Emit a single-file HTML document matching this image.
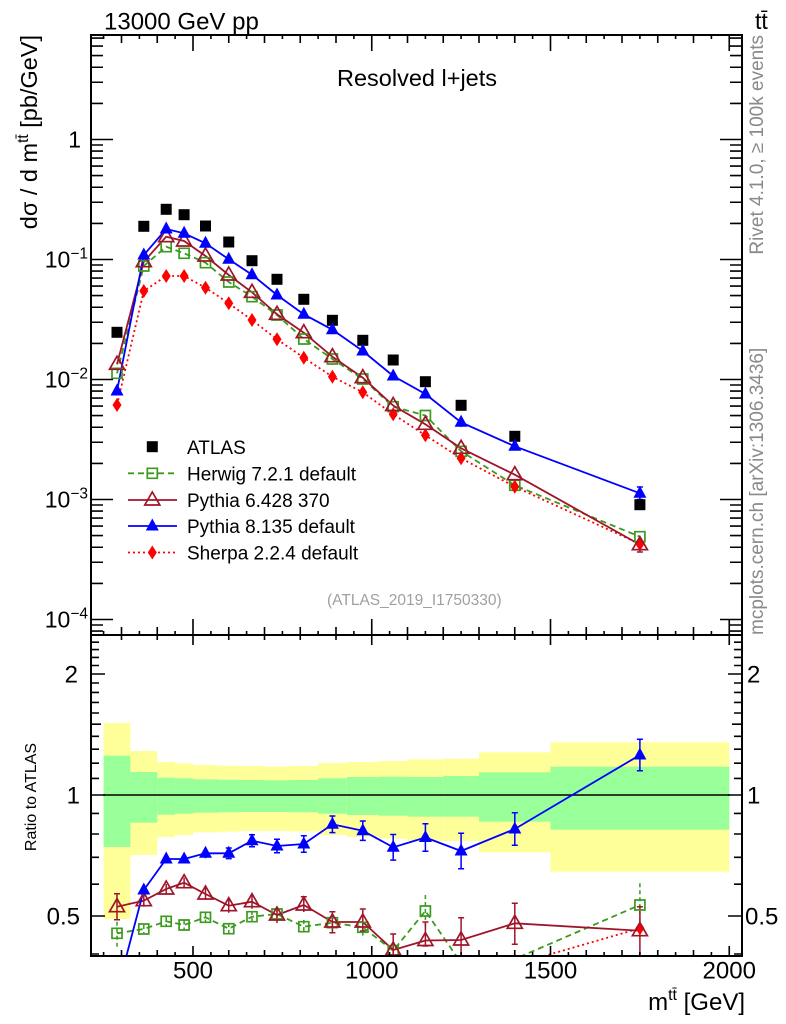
<!DOCTYPE html>
<html><head><meta charset="utf-8"><style>
html,body{margin:0;padding:0;background:#fff;}
svg{display:block;font-family:"Liberation Sans",Arial,sans-serif;}
</style></head><body>
<svg width="786" height="1024" viewBox="0 0 786 1024" xmlns="http://www.w3.org/2000/svg">
<defs>
<clipPath id="cm"><rect x="91" y="35" width="651" height="600"/></clipPath>
<clipPath id="cr"><rect x="91" y="635" width="651" height="321"/></clipPath>
<path id="sq" d="M-5.5,-5.5h11v11h-11z" fill="#000"/>
<path id="osq" d="M-5,-5h10v10h-10z" fill="none" stroke="#3c9a1e" stroke-width="1.7"/>
<path id="otri" d="M0,-8L7.5,5H-7.5Z" fill="none" stroke="#a0142a" stroke-width="1.7"/>
<path id="ftri" d="M0,-7.5L6.5,4.5H-6.5Z" fill="#0000ff"/>
<path id="dia" d="M0,-7L4.5,0L0,7L-4.5,0Z" fill="#ff0000"/>
</defs>
<rect width="786" height="1024" fill="#fff"/>

<!-- ratio bands -->
<g clip-path="url(#cr)">
<g fill="#ffff99">
<rect x="103.6" y="723" width="26.8" height="196"/>
<rect x="130.4" y="751" width="26.9" height="104"/>
<rect x="157.3" y="762" width="17.8" height="75"/>
<rect x="175.1" y="763.3" width="17.9" height="71.7"/>
<rect x="193" y="765" width="25" height="67.3"/>
<rect x="218" y="765.7" width="21.5" height="66"/>
<rect x="239.5" y="766" width="25" height="65"/>
<rect x="264.5" y="766.5" width="25" height="64.5"/>
<rect x="289.5" y="766" width="28.6" height="65.5"/>
<rect x="318.1" y="763" width="28.6" height="72"/>
<rect x="346.7" y="762" width="32.2" height="75"/>
<rect x="378.9" y="761" width="28.6" height="77.7"/>
<rect x="407.5" y="759.3" width="35.8" height="81.7"/>
<rect x="443.3" y="758.7" width="35.7" height="82.3"/>
<rect x="479" y="752.3" width="71.5" height="100"/>
<rect x="550.5" y="742.3" width="178.8" height="129.4"/>
</g>
<g fill="#99ff99">
<rect x="103.6" y="755.7" width="26.8" height="91.3"/>
<rect x="130.4" y="772" width="26.9" height="50.7"/>
<rect x="157.3" y="777.7" width="17.8" height="37"/>
<rect x="175.1" y="778.3" width="17.9" height="35.4"/>
<rect x="193" y="779.3" width="25" height="33.4"/>
<rect x="218" y="779.7" width="21.5" height="32.6"/>
<rect x="239.5" y="780" width="25" height="32"/>
<rect x="264.5" y="780.3" width="25" height="31.7"/>
<rect x="289.5" y="780" width="28.6" height="32.3"/>
<rect x="318.1" y="778.3" width="28.6" height="35.4"/>
<rect x="346.7" y="777" width="32.2" height="38"/>
<rect x="378.9" y="776.7" width="28.6" height="39"/>
<rect x="407.5" y="777" width="35.8" height="39.7"/>
<rect x="443.3" y="776" width="35.7" height="40.7"/>
<rect x="479" y="772.3" width="71.5" height="49.4"/>
<rect x="550.5" y="766.7" width="178.8" height="63"/>
</g>
<line x1="103" y1="795" x2="730" y2="795" stroke="#000" stroke-width="1.6"/>

<!-- ratio series -->
<g fill="none" stroke-width="1.8">
<polyline stroke="#3c9a1e" stroke-dasharray="6,4" points="117,933.3 143.8,929 166.2,921.3 184.1,925 205.5,917.3 228.75,928.7 252,916.7 277,914 303.8,926.7 332.4,922.7 362.8,927.3 393.2,950.7 425.4,911 461.1,963 514.8,959 639.9,905"/>
<polyline stroke="#ff0000" stroke-dasharray="2,3" points="117,1038.5 143.8,1011.7 166.2,1018.4 184.1,1000.4 205.5,1001.7 228.75,1000.4 252,993.7 277,996 303.8,990.6 332.4,984 362.8,969.2 393.2,976.9 425.4,974.6 461.1,972.6 514.8,964.5 639.9,928.3"/>
<polyline stroke="#a0142a" points="117,906.7 143.8,900.7 166.2,889 184.1,882.7 205.5,894 228.75,905.7 252,901.7 277,915 303.8,905 332.4,922 362.8,922 393.2,950 425.4,940.5 461.1,940 514.8,923.3 639.9,930.7"/>
<polyline stroke="#0000ff" points="117,991.6 143.8,890 166.2,859 184.1,859 205.5,853.3 228.75,853.3 252,840.7 277,846 303.8,844 332.4,824.3 362.8,830.7 393.2,847.3 425.4,837.5 461.1,851 514.8,829 639.9,755"/>
</g>
<!-- ratio error bars -->
<path fill="none" stroke="#3c9a1e" stroke-width="1.5" stroke-dasharray="4,3" d="M117,921.7V947M143.8,925V933M166.2,917V925.6M184.1,920.5V929.5M205.5,912.5V922M228.75,923V934M252,911V922.5M277,908V920M303.8,920V933.4M332.4,915V930.4M362.8,919V935.6M393.2,942V960M425.4,895V927M639.9,883.3V926.7"/>
<path fill="none" stroke="#a0142a" stroke-width="1.5" d="M117,893.7V919.7M114,893.7h6M114,919.7h6M143.8,894.7V906.7M166.2,884V894M184.1,877.7V887.7M205.5,888V900M228.75,898.7V912.7M252,894.7V908.7M277,907V923M303.8,896.7V912M300.8,896.7h6M332.4,911.7V932.7M329.4,911.7h6M329.4,932.7h6M362.8,909V931M359.8,909h6M359.8,931h6M393.2,934V966M390.2,934h6M425.4,922V946M422.4,922h6M422.4,946h6M461.1,917.7V965M458.1,917.7h6M514.8,903.3V944.3M511.8,903.3h6M511.8,944.3h6M639.9,906.7V965M636.9,906.7h6"/>
<path fill="none" stroke="#0000ff" stroke-width="1.5" d="M143.8,886V894M166.2,856V862M184.1,856V862M205.5,848.3V858.3M228.75,848V858.6M225.75,848h6M225.75,858.6h6M252,834.7V846.7M249,834.7h6M249,846.7h6M277,839.3V852.7M274,839.3h6M274,852.7h6M303.8,835.7V852.3M300.8,835.7h6M300.8,852.3h6M332.4,816V832.6M329.4,816h6M329.4,832.6h6M362.8,821V840.4M359.8,821h6M359.8,840.4h6M393.2,834.5V860.1M390.2,834.5h6M390.2,860.1h6M425.4,823.8V851.2M422.4,823.8h6M422.4,851.2h6M461.1,833.2V868.8M458.1,833.2h6M458.1,868.8h6M514.8,812.8V845.2M511.8,812.8h6M511.8,845.2h6M639.9,739.2V770.8M636.9,739.2h6M636.9,770.8h6"/>
<!-- ratio markers -->
<g>
<use href="#osq" x="117" y="933.3"/><use href="#osq" x="143.8" y="929"/><use href="#osq" x="166.2" y="921.3"/><use href="#osq" x="184.1" y="925"/><use href="#osq" x="205.5" y="917.3"/><use href="#osq" x="228.75" y="928.7"/><use href="#osq" x="252" y="916.7"/><use href="#osq" x="277" y="914"/><use href="#osq" x="303.8" y="926.7"/><use href="#osq" x="332.4" y="922.7"/><use href="#osq" x="362.8" y="927.3"/><use href="#osq" x="393.2" y="950.7"/><use href="#osq" x="425.4" y="911"/><use href="#osq" x="639.9" y="905"/>
<use href="#dia" x="639.9" y="928.3"/>
<use href="#otri" x="117" y="906.7"/><use href="#otri" x="143.8" y="900.7"/><use href="#otri" x="166.2" y="889"/><use href="#otri" x="184.1" y="882.7"/><use href="#otri" x="205.5" y="894"/><use href="#otri" x="228.75" y="905.7"/><use href="#otri" x="252" y="901.7"/><use href="#otri" x="277" y="915"/><use href="#otri" x="303.8" y="905"/><use href="#otri" x="332.4" y="922"/><use href="#otri" x="362.8" y="922"/><use href="#otri" x="393.2" y="950"/><use href="#otri" x="425.4" y="940.5"/><use href="#otri" x="461.1" y="940"/><use href="#otri" x="514.8" y="923.3"/><use href="#otri" x="639.9" y="930.7"/>
<use href="#ftri" x="143.8" y="890"/><use href="#ftri" x="166.2" y="859"/><use href="#ftri" x="184.1" y="859"/><use href="#ftri" x="205.5" y="853.3"/><use href="#ftri" x="228.75" y="853.3"/><use href="#ftri" x="252" y="840.7"/><use href="#ftri" x="277" y="846"/><use href="#ftri" x="303.8" y="844"/><use href="#ftri" x="332.4" y="824.3"/><use href="#ftri" x="362.8" y="830.7"/><use href="#ftri" x="393.2" y="847.3"/><use href="#ftri" x="425.4" y="837.5"/><use href="#ftri" x="461.1" y="851"/><use href="#ftri" x="514.8" y="829"/><use href="#ftri" x="639.9" y="755"/>
</g>
</g>

<!-- main panel series -->
<g clip-path="url(#cm)">
<g fill="none" stroke-width="1.8">
<polyline stroke="#3c9a1e" stroke-dasharray="6,4" points="117,373.3 143.8,266 166.2,246.7 184.1,253.3 205.5,262.7 228.75,282 252,296.7 277,315 303.8,339 332.4,359 362.8,379 393.2,406.7 425.4,415.5 461.1,451.3 514.8,485.3 639.9,536.7"/>
<polyline stroke="#ff0000" stroke-dasharray="2,3" points="117,405 143.8,291 166.2,276 184.1,276 205.5,287.7 228.75,303.3 252,320 277,339.3 303.8,357.7 332.4,376.7 362.8,392.3 393.2,414.3 425.4,435.3 461.1,458.3 514.8,486.7 639.9,544"/>
<polyline stroke="#a0142a" points="117,364.3 143.8,261.7 166.2,236.7 184.1,241 205.5,256 228.75,275 252,292.3 277,314.3 303.8,332.7 332.4,356.7 362.8,377.7 393.2,405.5 425.4,424.3 461.1,448.3 514.8,474.7 639.9,544.7"/>
<polyline stroke="#0000ff" points="117,391 143.8,255 166.2,229 184.1,233.3 205.5,243.3 228.75,259.3 252,274.7 277,295 303.8,314.3 332.4,329.7 362.8,351 393.2,376 425.4,394 461.1,422.3 514.8,446.3 639.9,493.3"/>
</g>
<path fill="none" stroke="#0000ff" stroke-width="1.5" d="M639.9,487V499.5M636.9,487h6M636.9,499.5h6M461.1,417V427"/>
<path fill="none" stroke="#a0142a" stroke-width="1.5" d="M639.9,537V552M636.9,552h6"/>
<use href="#sq" x="117" y="332.3"/><use href="#sq" x="143.8" y="226.3"/><use href="#sq" x="166.2" y="209.3"/><use href="#sq" x="184.1" y="214.7"/><use href="#sq" x="205.5" y="226"/><use href="#sq" x="228.75" y="242"/><use href="#sq" x="252" y="260.7"/><use href="#sq" x="277" y="279.3"/><use href="#sq" x="303.8" y="299.3"/><use href="#sq" x="332.4" y="320.3"/><use href="#sq" x="362.8" y="340.3"/><use href="#sq" x="393.2" y="360"/><use href="#sq" x="425.4" y="381.7"/><use href="#sq" x="461.1" y="405.3"/><use href="#sq" x="514.8" y="436.3"/><use href="#sq" x="639.9" y="504.7"/>
<use href="#osq" x="117" y="373.3"/><use href="#osq" x="143.8" y="266"/><use href="#osq" x="166.2" y="246.7"/><use href="#osq" x="184.1" y="253.3"/><use href="#osq" x="205.5" y="262.7"/><use href="#osq" x="228.75" y="282"/><use href="#osq" x="252" y="296.7"/><use href="#osq" x="277" y="315"/><use href="#osq" x="303.8" y="339"/><use href="#osq" x="332.4" y="359"/><use href="#osq" x="362.8" y="379"/><use href="#osq" x="393.2" y="406.7"/><use href="#osq" x="425.4" y="415.5"/><use href="#osq" x="461.1" y="451.3"/><use href="#osq" x="514.8" y="485.3"/><use href="#osq" x="639.9" y="536.7"/>
<use href="#dia" x="117" y="405"/><use href="#dia" x="143.8" y="291"/><use href="#dia" x="166.2" y="276"/><use href="#dia" x="184.1" y="276"/><use href="#dia" x="205.5" y="287.7"/><use href="#dia" x="228.75" y="303.3"/><use href="#dia" x="252" y="320"/><use href="#dia" x="277" y="339.3"/><use href="#dia" x="303.8" y="357.7"/><use href="#dia" x="332.4" y="376.7"/><use href="#dia" x="362.8" y="392.3"/><use href="#dia" x="393.2" y="414.3"/><use href="#dia" x="425.4" y="435.3"/><use href="#dia" x="461.1" y="458.3"/><use href="#dia" x="514.8" y="486.7"/><use href="#dia" x="639.9" y="544"/>
<use href="#otri" x="117" y="364.3"/><use href="#otri" x="143.8" y="261.7"/><use href="#otri" x="166.2" y="236.7"/><use href="#otri" x="184.1" y="241"/><use href="#otri" x="205.5" y="256"/><use href="#otri" x="228.75" y="275"/><use href="#otri" x="252" y="292.3"/><use href="#otri" x="277" y="314.3"/><use href="#otri" x="303.8" y="332.7"/><use href="#otri" x="332.4" y="356.7"/><use href="#otri" x="362.8" y="377.7"/><use href="#otri" x="393.2" y="405.5"/><use href="#otri" x="425.4" y="424.3"/><use href="#otri" x="461.1" y="448.3"/><use href="#otri" x="514.8" y="474.7"/><use href="#otri" x="639.9" y="544.7"/>
<use href="#ftri" x="117" y="391"/><use href="#ftri" x="143.8" y="255"/><use href="#ftri" x="166.2" y="229"/><use href="#ftri" x="184.1" y="233.3"/><use href="#ftri" x="205.5" y="243.3"/><use href="#ftri" x="228.75" y="259.3"/><use href="#ftri" x="252" y="274.7"/><use href="#ftri" x="277" y="295"/><use href="#ftri" x="303.8" y="314.3"/><use href="#ftri" x="332.4" y="329.7"/><use href="#ftri" x="362.8" y="351"/><use href="#ftri" x="393.2" y="376"/><use href="#ftri" x="425.4" y="394"/><use href="#ftri" x="461.1" y="422.3"/><use href="#ftri" x="514.8" y="446.3"/><use href="#ftri" x="639.9" y="493.3"/>
</g>

<!-- frames -->
<rect x="91" y="35" width="651" height="600" fill="none" stroke="#000" stroke-width="2"/>
<rect x="91" y="635" width="651" height="321" fill="none" stroke="#000" stroke-width="2"/>

<!-- ticks -->
<g stroke="#000" stroke-width="1.6" fill="none">
<path d="M193,35v16M371.75,35v16M550.5,35v16M729.25,35v16M193,635v-16M371.75,635v-16M550.5,635v-16M729.25,635v-16M193,635v10M371.75,635v10M550.5,635v10M729.25,635v10M193,956v-10M371.75,956v-10M550.5,956v-10M729.25,956v-10"/>
<path d="M121.5,35v8M157.25,35v8M228.75,35v8M264.5,35v8M300.25,35v8M336,35v8M407.5,35v8M443.25,35v8M479,35v8M514.75,35v8M586.25,35v8M622,35v8M657.75,35v8M693.5,35v8
M121.5,635v-8M157.25,635v-8M228.75,635v-8M264.5,635v-8M300.25,635v-8M336,635v-8M407.5,635v-8M443.25,635v-8M479,635v-8M514.75,635v-8M586.25,635v-8M622,635v-8M657.75,635v-8M693.5,635v-8
M121.5,635v5M157.25,635v5M228.75,635v5M264.5,635v5M300.25,635v5M336,635v5M407.5,635v5M443.25,635v5M479,635v5M514.75,635v5M586.25,635v5M622,635v5M657.75,635v5M693.5,635v5
M121.5,956v-6M157.25,956v-6M228.75,956v-6M264.5,956v-6M300.25,956v-6M336,956v-6M407.5,956v-6M443.25,956v-6M479,956v-6M514.75,956v-6M586.25,956v-6M622,956v-6M657.75,956v-6M693.5,956v-6"/>
<path d="M103.6,35v4M139.4,35v4M175.1,35v4M210.9,35v4M246.6,35v4M282.4,35v4M318.1,35v4M353.9,35v4M389.6,35v4M425.4,35v4M461.1,35v4M496.9,35v4M532.6,35v4M568.4,35v4M604.1,35v4M639.9,35v4M675.6,35v4M711.4,35v4
M103.6,635v-4M139.4,635v-4M175.1,635v-4M210.9,635v-4M246.6,635v-4M282.4,635v-4M318.1,635v-4M353.9,635v-4M389.6,635v-4M425.4,635v-4M461.1,635v-4M496.9,635v-4M532.6,635v-4M568.4,635v-4M604.1,635v-4M639.9,635v-4M675.6,635v-4M711.4,635v-4
M103.6,956v-4M139.4,956v-4M175.1,956v-4M210.9,956v-4M246.6,956v-4M282.4,956v-4M318.1,956v-4M353.9,956v-4M389.6,956v-4M425.4,956v-4M461.1,956v-4M496.9,956v-4M532.6,956v-4M568.4,956v-4M604.1,956v-4M639.9,956v-4M675.6,956v-4M711.4,956v-4"/>
<path d="M91,139.5h22M91,259.5h22M91,379.5h22M91,499.5h22M91,619.5h22M742,139.5h-22M742,259.5h-22M742,379.5h-22M742,499.5h-22M742,619.5h-22"/>
<path d="M91,103.4h12M91,82.25h12M91,67.25h12M91,55.6h12M91,46.1h12M91,38.1h12
M91,223.4h12M91,202.25h12M91,187.25h12M91,175.6h12M91,166.1h12M91,158.1h12M91,151.1h12M91,145h12
M91,343.4h12M91,322.25h12M91,307.25h12M91,295.6h12M91,286.1h12M91,278.1h12M91,271.1h12M91,265h12
M91,463.4h12M91,442.25h12M91,427.25h12M91,415.6h12M91,406.1h12M91,398.1h12M91,391.1h12M91,385h12
M91,583.4h12M91,562.25h12M91,547.25h12M91,535.6h12M91,526.1h12M91,518.1h12M91,511.1h12M91,505h12
M91,625h12M91,631.1h12
M742,103.4h-12M742,82.25h-12M742,67.25h-12M742,55.6h-12M742,46.1h-12M742,38.1h-12
M742,223.4h-12M742,202.25h-12M742,187.25h-12M742,175.6h-12M742,166.1h-12M742,158.1h-12M742,151.1h-12M742,145h-12
M742,343.4h-12M742,322.25h-12M742,307.25h-12M742,295.6h-12M742,286.1h-12M742,278.1h-12M742,271.1h-12M742,265h-12
M742,463.4h-12M742,442.25h-12M742,427.25h-12M742,415.6h-12M742,406.1h-12M742,398.1h-12M742,391.1h-12M742,385h-12
M742,583.4h-12M742,562.25h-12M742,547.25h-12M742,535.6h-12M742,526.1h-12M742,518.1h-12M742,511.1h-12M742,505h-12
M742,625h-12M742,631.1h-12"/>
<path d="M91,916h14M91,795h14M91,674h14M742,916h-14M742,795h-14M742,674h-14
M91,884.2h8M91,857.3h8M91,834h8M91,813.4h8M91,778.4h8M91,763.2h8M91,749.2h8M91,736.3h8M91,724.2h10M91,713h8M91,702.4h8M91,692.4h8M91,683h8M91,665.5h8M91,657.4h8M91,649.6h8M91,642.2h8M91,954h8
M742,884.2h-8M742,857.3h-8M742,834h-8M742,813.4h-8M742,778.4h-8M742,763.2h-8M742,749.2h-8M742,736.3h-8M742,724.2h-10M742,713h-8M742,702.4h-8M742,692.4h-8M742,683h-8M742,665.5h-8M742,657.4h-8M742,649.6h-8M742,642.2h-8M742,954h-8"/>
</g>

<!-- tick labels -->
<g font-size="23" fill="#000">
<text x="81" y="147.5" text-anchor="end">1</text>
<text x="88" y="267.5" text-anchor="end">10<tspan dy="-9" font-size="15.5">−1</tspan></text>
<text x="88" y="387.5" text-anchor="end">10<tspan dy="-9" font-size="15.5">−2</tspan></text>
<text x="88" y="507.5" text-anchor="end">10<tspan dy="-9" font-size="15.5">−3</tspan></text>
<text x="88" y="627.5" text-anchor="end">10<tspan dy="-9" font-size="15.5">−4</tspan></text>
</g>
<g font-size="24" fill="#000">
<text x="78" y="682.5" text-anchor="end">2</text>
<text x="80" y="803.5" text-anchor="end">1</text>
<text x="80" y="924.5" text-anchor="end">0.5</text>
<text x="747" y="682.5">2</text>
<text x="747" y="803.5">1</text>
<text x="745" y="924.5">0.5</text>
<text x="193" y="978.5" text-anchor="middle">500</text>
<text x="371.75" y="978.5" text-anchor="middle">1000</text>
<text x="550.5" y="978.5" text-anchor="middle">1500</text>
<text x="729.25" y="978.5" text-anchor="middle">2000</text>
</g>

<!-- titles -->
<text x="104" y="29.5" font-size="24">13000 GeV pp</text>
<text x="755" y="29" font-size="23">tt̄</text>
<text x="337" y="86" font-size="23.5">Resolved l+jets</text>
<text x="745" y="1010" font-size="24" text-anchor="end">m<tspan dy="-10" font-size="16">tt̄</tspan><tspan dy="10"> [GeV]</tspan></text>
<text transform="translate(37,35) rotate(-90)" font-size="23.5" text-anchor="end">dσ / d m<tspan dy="-9" font-size="15.5">tt̄</tspan><tspan dy="9"> [pb/GeV]</tspan></text>
<text transform="translate(36,797) rotate(-90)" font-size="16" text-anchor="middle">Ratio to ATLAS</text>
<text transform="translate(763,35) rotate(-90)" font-size="19" text-anchor="end" fill="#8a8a8a">Rivet 4.1.0, ≥ 100k events</text>
<text transform="translate(763,635) rotate(-90)" font-size="19" fill="#8a8a8a">mcplots.cern.ch [arXiv:1306.3436]</text>
<text x="327" y="605" font-size="15.5" fill="#a0a0a0">(ATLAS_2019_I1750330)</text>

<!-- legend -->
<use href="#sq" x="152.3" y="446.7"/>
<line x1="128" y1="473.3" x2="177" y2="473.3" stroke="#3c9a1e" stroke-width="1.8" stroke-dasharray="6,4"/>
<use href="#osq" x="152.3" y="473.3"/>
<line x1="128" y1="500" x2="177" y2="500" stroke="#a0142a" stroke-width="1.8"/>
<use href="#otri" x="152.3" y="500"/>
<line x1="128" y1="526" x2="177" y2="526" stroke="#0000ff" stroke-width="1.8"/>
<use href="#ftri" x="152.3" y="526"/>
<line x1="128" y1="552.5" x2="177" y2="552.5" stroke="#ff0000" stroke-width="1.8" stroke-dasharray="2,3"/>
<use href="#dia" x="152.3" y="552.5"/>
<g font-size="19" fill="#000">
<text x="187" y="454">ATLAS</text>
<text x="187" y="480.5">Herwig 7.2.1 default</text>
<text x="187" y="507">Pythia 6.428 370</text>
<text x="187" y="533">Pythia 8.135 default</text>
<text x="187" y="559.5">Sherpa 2.2.4 default</text>
</g>
</svg>
</body></html>
